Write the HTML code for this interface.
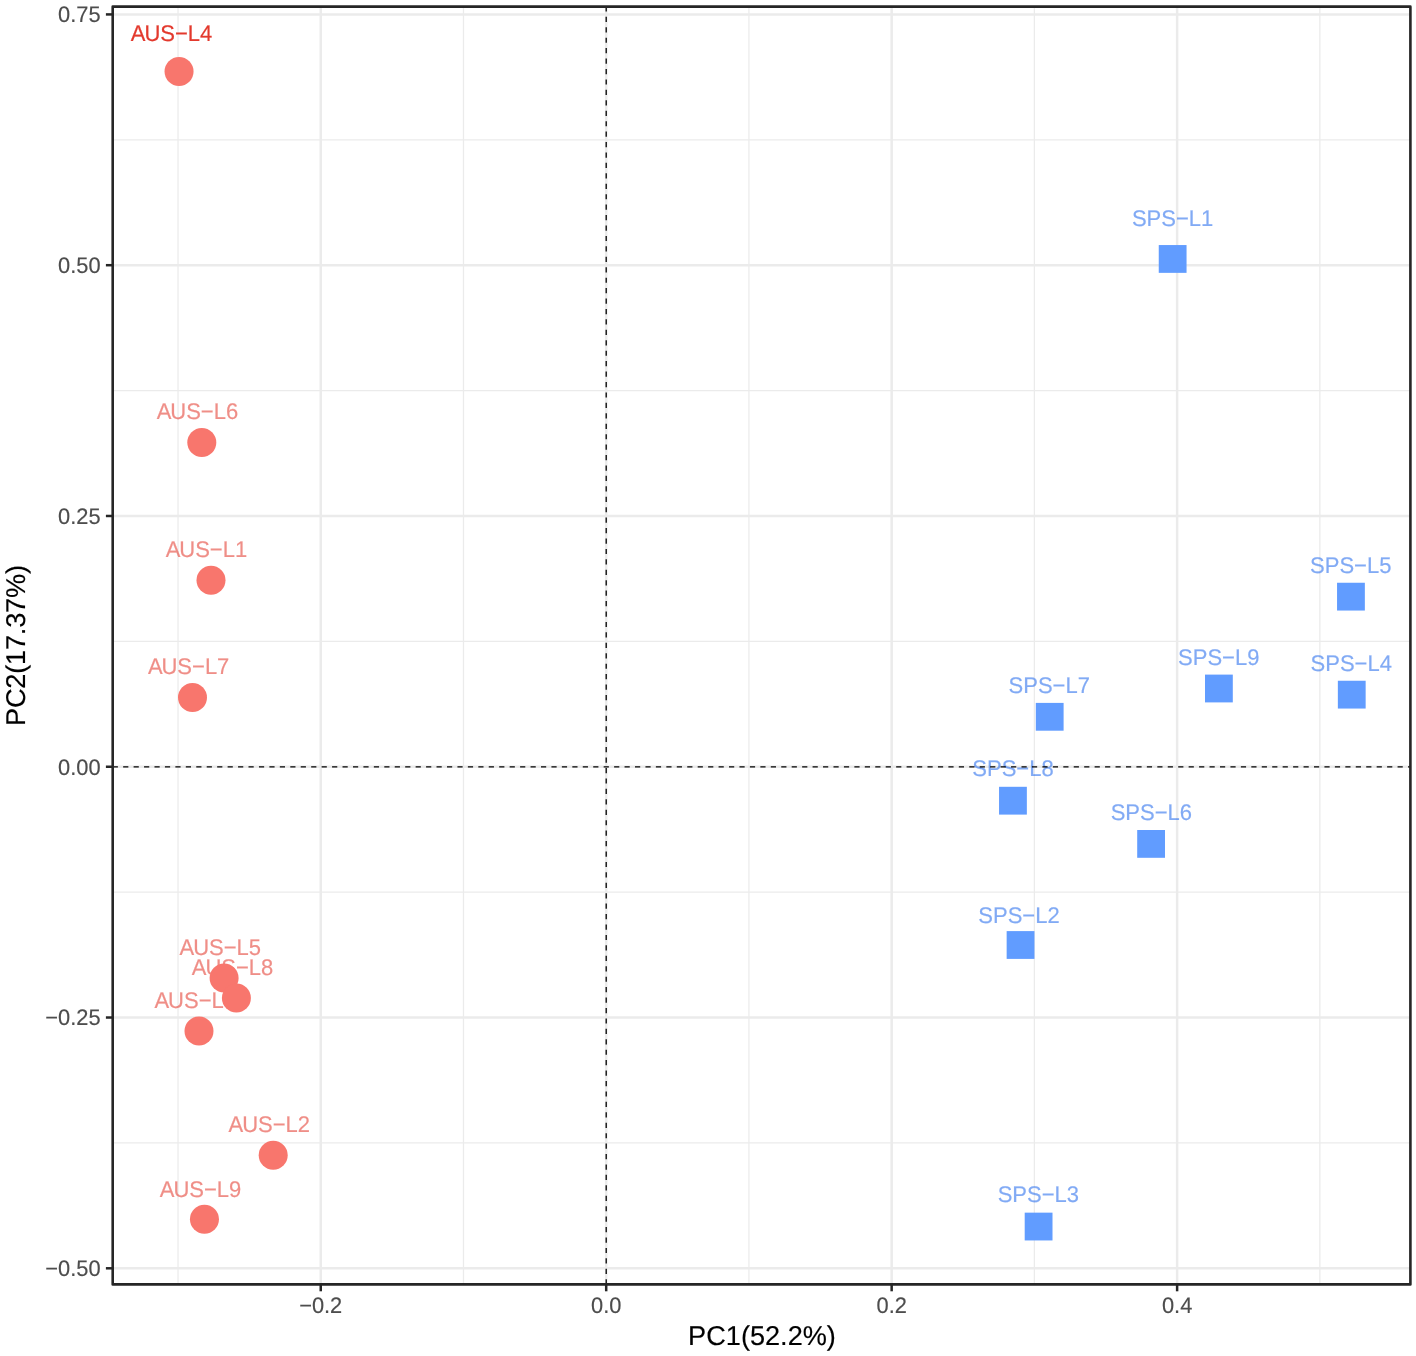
<!DOCTYPE html>
<html lang="en"><head><meta charset="utf-8"><title>PCA plot</title>
<style>html,body{margin:0;padding:0;background:#fff}body{width:1416px;height:1356px;overflow:hidden}svg{display:block}text{font-family:"Liberation Sans", Arial, Helvetica, sans-serif;text-rendering:geometricPrecision}</style></head><body>
<svg width="1416" height="1356" viewBox="0 0 1416 1356">
<rect width="1416" height="1356" fill="#fff"/>
<g stroke="#EBEBEB" stroke-width="1.25" fill="none">
<line x1="178.01" y1="6.65" x2="178.01" y2="1284.40"/>
<line x1="463.47" y1="6.65" x2="463.47" y2="1284.40"/>
<line x1="748.93" y1="6.65" x2="748.93" y2="1284.40"/>
<line x1="1034.39" y1="6.65" x2="1034.39" y2="1284.40"/>
<line x1="1319.85" y1="6.65" x2="1319.85" y2="1284.40"/>
<line x1="112.70" y1="139.81" x2="1410.40" y2="139.81"/>
<line x1="112.70" y1="390.59" x2="1410.40" y2="390.59"/>
<line x1="112.70" y1="641.36" x2="1410.40" y2="641.36"/>
<line x1="112.70" y1="892.14" x2="1410.40" y2="892.14"/>
<line x1="112.70" y1="1142.91" x2="1410.40" y2="1142.91"/>
</g>
<g stroke="#EBEBEB" stroke-width="2.5" fill="none">
<line x1="320.74" y1="6.65" x2="320.74" y2="1284.40"/>
<line x1="606.20" y1="6.65" x2="606.20" y2="1284.40"/>
<line x1="891.66" y1="6.65" x2="891.66" y2="1284.40"/>
<line x1="1177.12" y1="6.65" x2="1177.12" y2="1284.40"/>
<line x1="112.70" y1="14.42" x2="1410.40" y2="14.42"/>
<line x1="112.70" y1="265.20" x2="1410.40" y2="265.20"/>
<line x1="112.70" y1="515.98" x2="1410.40" y2="515.98"/>
<line x1="112.70" y1="766.75" x2="1410.40" y2="766.75"/>
<line x1="112.70" y1="1017.52" x2="1410.40" y2="1017.52"/>
<line x1="112.70" y1="1268.30" x2="1410.40" y2="1268.30"/>
</g>
<g font-size="22.0" stroke-width="0.2">
<text transform="translate(130.80,40.75) scale(1,1.030)" fill="#E3392D" stroke="#E3392D" opacity="1" dx="0 -1.1">AUS−L4</text>
<text transform="translate(156.70,419.35) scale(1,1.030)" fill="#E3392D" stroke="#E3392D" opacity="0.57" dx="0 -1.1">AUS−L6</text>
<text transform="translate(165.70,557.45) scale(1,1.030)" fill="#E3392D" stroke="#E3392D" opacity="0.57" dx="0 -1.1">AUS−L1</text>
<text transform="translate(147.90,673.75) scale(1,1.030)" fill="#E3392D" stroke="#E3392D" opacity="0.57" dx="0 -1.1">AUS−L7</text>
<text transform="translate(179.60,954.55) scale(1,1.030)" fill="#E3392D" stroke="#E3392D" opacity="0.57" dx="0 -1.1">AUS−L5</text>
<text transform="translate(191.80,974.55) scale(1,1.030)" fill="#E3392D" stroke="#E3392D" opacity="0.57" dx="0 -1.1">AUS−L8</text>
<text transform="translate(154.50,1007.55) scale(1,1.030)" fill="#E3392D" stroke="#E3392D" opacity="0.57" dx="0 -1.1">AUS−L3</text>
<text transform="translate(228.60,1132.45) scale(1,1.030)" fill="#E3392D" stroke="#E3392D" opacity="0.57" dx="0 -1.1">AUS−L2</text>
<text transform="translate(159.80,1196.55) scale(1,1.030)" fill="#E3392D" stroke="#E3392D" opacity="0.57" dx="0 -1.1">AUS−L9</text>
<text transform="translate(1131.90,225.75) scale(1,1.030)" fill="#236AED" stroke="#236AED" opacity="0.57">SPS−L1</text>
<text transform="translate(1310.10,572.70) scale(1,1.030)" fill="#236AED" stroke="#236AED" opacity="0.57">SPS−L5</text>
<text transform="translate(1310.60,670.95) scale(1,1.030)" fill="#236AED" stroke="#236AED" opacity="0.57">SPS−L4</text>
<text transform="translate(1178.10,664.75) scale(1,1.030)" fill="#236AED" stroke="#236AED" opacity="0.57">SPS−L9</text>
<text transform="translate(1008.60,692.95) scale(1,1.030)" fill="#236AED" stroke="#236AED" opacity="0.57">SPS−L7</text>
<text transform="translate(972.30,776.45) scale(1,1.030)" fill="#236AED" stroke="#236AED" opacity="0.57">SPS−L8</text>
<text transform="translate(1110.70,820.05) scale(1,1.030)" fill="#236AED" stroke="#236AED" opacity="0.57">SPS−L6</text>
<text transform="translate(978.30,922.55) scale(1,1.030)" fill="#236AED" stroke="#236AED" opacity="0.57">SPS−L2</text>
<text transform="translate(997.70,1202.05) scale(1,1.030)" fill="#236AED" stroke="#236AED" opacity="0.57">SPS−L3</text>
</g>
<g stroke="#000" stroke-width="1.3" fill="none">
<line x1="606.20" y1="1284.40" x2="606.20" y2="6.65" stroke-dasharray="5.2 5.233"/>
<line x1="112.70" y1="766.85" x2="1410.40" y2="766.85" stroke-dasharray="5.2 5.246"/>
</g>
<circle cx="179.05" cy="71.50" r="14.5" fill="#F8766D"/>
<circle cx="201.80" cy="442.50" r="14.5" fill="#F8766D"/>
<circle cx="211.00" cy="580.30" r="14.5" fill="#F8766D"/>
<circle cx="192.50" cy="697.50" r="14.5" fill="#F8766D"/>
<circle cx="224.10" cy="978.00" r="14.5" fill="#F8766D"/>
<circle cx="236.40" cy="998.10" r="14.5" fill="#F8766D"/>
<circle cx="199.00" cy="1031.10" r="14.5" fill="#F8766D"/>
<circle cx="273.20" cy="1155.20" r="14.5" fill="#F8766D"/>
<circle cx="204.45" cy="1219.30" r="14.5" fill="#F8766D"/>
<rect x="1158.75" y="245.05" width="27.8" height="27.8" fill="#619CFF"/>
<rect x="1337.05" y="582.75" width="27.8" height="27.8" fill="#619CFF"/>
<rect x="1337.85" y="680.75" width="27.8" height="27.8" fill="#619CFF"/>
<rect x="1205.00" y="674.60" width="27.8" height="27.8" fill="#619CFF"/>
<rect x="1035.80" y="702.90" width="27.8" height="27.8" fill="#619CFF"/>
<rect x="999.05" y="786.80" width="27.8" height="27.8" fill="#619CFF"/>
<rect x="1137.20" y="830.00" width="27.8" height="27.8" fill="#619CFF"/>
<rect x="1006.65" y="931.10" width="27.8" height="27.8" fill="#619CFF"/>
<rect x="1024.70" y="1212.65" width="27.8" height="27.8" fill="#619CFF"/>
<rect x="112.70" y="6.65" width="1297.70" height="1277.75" fill="none" stroke="#262626" stroke-width="2.6" stroke-linejoin="round"/>
<g stroke="#262626" stroke-width="2.5">
<line x1="105.9" x2="112.70" y1="14.42" y2="14.42"/>
<line x1="105.9" x2="112.70" y1="265.20" y2="265.20"/>
<line x1="105.9" x2="112.70" y1="515.98" y2="515.98"/>
<line x1="105.9" x2="112.70" y1="766.75" y2="766.75"/>
<line x1="105.9" x2="112.70" y1="1017.52" y2="1017.52"/>
<line x1="105.9" x2="112.70" y1="1268.30" y2="1268.30"/>
<line y1="1284.40" y2="1291.3" x1="320.74" x2="320.74"/>
<line y1="1284.40" y2="1291.3" x1="606.20" x2="606.20"/>
<line y1="1284.40" y2="1291.3" x1="891.66" x2="891.66"/>
<line y1="1284.40" y2="1291.3" x1="1177.12" x2="1177.12"/>
</g>
<g font-size="21.85" fill="#4D4D4D" stroke="#4D4D4D" stroke-width="0.15">
<text transform="translate(100.6,22.1) scale(1,1.030)" text-anchor="end">0.75</text>
<text transform="translate(100.6,272.9) scale(1,1.030)" text-anchor="end">0.50</text>
<text transform="translate(100.6,523.7) scale(1,1.030)" text-anchor="end">0.25</text>
<text transform="translate(100.6,774.5) scale(1,1.030)" text-anchor="end">0.00</text>
<text transform="translate(100.6,1025.2) scale(1,1.030)" text-anchor="end">−0.25</text>
<text transform="translate(100.6,1276.0) scale(1,1.030)" text-anchor="end">−0.50</text>
<text transform="translate(320.7,1312.5) scale(1,1.030)" text-anchor="middle">−0.2</text>
<text transform="translate(606.2,1312.5) scale(1,1.030)" text-anchor="middle">0.0</text>
<text transform="translate(891.7,1312.5) scale(1,1.030)" text-anchor="middle">0.2</text>
<text transform="translate(1177.1,1312.5) scale(1,1.030)" text-anchor="middle">0.4</text>
</g>
<text transform="translate(762,1344.9) scale(1,1.000)" font-size="27.15" stroke="#000" stroke-width="0.15" text-anchor="middle" fill="#000">PC1(52.2%)</text>
<text transform="translate(24.7,645.6) rotate(-90) scale(1,1.000)" letter-spacing="-0.2" font-size="27.15" stroke="#000" stroke-width="0.15" text-anchor="middle" fill="#000">PC2(17.37%)</text>
</svg></body></html>
